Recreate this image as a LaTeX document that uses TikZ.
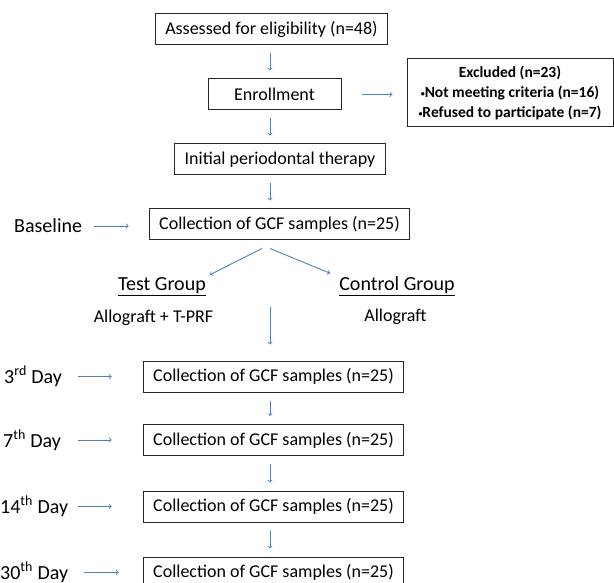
\documentclass[tikz,border=0pt]{standalone}
\usepackage{fontspec}
\setmainfont{Carlito}
\usepackage{tikz}
\usetikzlibrary{arrows,positioning}
\definecolor{arrowblue}{RGB}{79,129,189}
\newcommand{\smallbullet}{\raisebox{1.5pt}{\fontsize{8}{8}\selectfont\textbullet}}

\begin{document}
\begin{tikzpicture}[x=1pt,y=-1pt,>=to,
    box/.style={draw=black!85,line width=1pt,inner xsep=10pt,minimum height=31pt,font=\fontsize{18}{22}\selectfont},
    lbl/.style={inner sep=0pt,font=\fontsize{20}{24}\selectfont},
    note/.style={inner sep=0pt,font=\fontsize{18}{22}\selectfont},
    link/.style={->,color=arrowblue,line width=0.9pt,shorten <=8pt,shorten >=8pt}]
    \useasboundingbox (0,0) rectangle (614,583);
    \coordinate (col) at (270,0);
    \coordinate (merge) at (270,307);
    % main column
    \node[box]  (assess)  at (271.5,29)   {Assessed for eligibility (n=48)};
    \node[box,minimum width=133pt]  (enrol)  at (274.5,94.5)  {Enrollment};
    \node[box]  (init)    at (280,159.5)  {Initial periodontal therapy};
    \node[box]  (base)    at (279.5,224.5) {Collection of GCF samples (n=25)};
    \node[box]  (d3)      at (273.5,376.5) {Collection of GCF samples (n=25)};
    \node[box]  (d7)      at (273.5,440)   {Collection of GCF samples (n=25)};
    \node[box]  (d14)     at (273.5,506.5) {Collection of GCF samples (n=25)};
    \node[box]  (d30)     at (273.5,572.5) {Collection of GCF samples (n=25)};
    \node[box,minimum width=206pt,minimum height=68pt,align=center,
          font=\fontsize{15.5}{20}\selectfont\bfseries] (excl) at (510,93)
          {Excluded (n=23)\\\smallbullet Not meeting criteria (n=16)\\\smallbullet Refused to participate (n=7)};
    % groups
    \node[lbl]  (test)    at (162,287)    {\underline{Test Group}};
    \node[lbl]  (ctrl)    at (397,286)    {\underline{Control Group}};
    \node[note] (testtx)  at (153.5,318)  {Allograft + T-PRF};
    \node[note] (ctrltx)  at (395.5,317)  {Allograft};
    % time points
    \node[lbl,anchor=west] (baselbl) at (14,226) {Baseline};
    \node[lbl,anchor=west] (d3lbl)   at (4,376.5)  {3\textsuperscript{rd} Day};
    \node[lbl,anchor=west] (d7lbl)   at (3,440)    {7\textsuperscript{th} Day};
    \node[lbl,anchor=west] (d14lbl)  at (0,506.5)  {14\textsuperscript{th} Day};
    \node[lbl,anchor=west] (d30lbl)  at (0,572.5)  {30\textsuperscript{th} Day};
    \path[link] (assess.south -| col) edge (enrol.north -| col)
                (enrol.south -| col)  edge (init.north -| col)
                (init.south -| col)   edge (base.north -| col)
                (d3.south -| col)     edge (d7.north -| col)
                (d7.south -| col)     edge (d14.north -| col)
                (d14.south -| col)    edge (d30.north -| col)
                (enrol) edge[shorten <=20pt,shorten >=14pt] (enrol -| excl.west)
                ;
    \draw[link,shorten <=0pt,shorten >=16pt] (merge) -- (d3.north -| col);
    \path[link,shorten <=0pt,shorten >=0pt]
                ([xshift=-17.5pt,yshift=-8pt]base.south) edge ([xshift=4pt,yshift=3pt]test.north east)
                ([xshift=-9.5pt,yshift=-8pt]base.south)  edge ([xshift=-9pt,yshift=3pt]ctrl.north west)
                ;
    \path[link] (baselbl) edge[shorten <=12pt,shorten >=20pt] (baselbl -| base.west)
                (d3lbl)   edge[shorten <=16pt,shorten >=31pt] (d3lbl -| d3.west)
                (d7lbl)   edge[shorten <=17pt,shorten >=31pt] (d7lbl -| d7.west)
                (d14lbl)  edge[shorten <=10pt,shorten >=31pt] (d14lbl -| d14.west)
                (d30lbl)  edge[shorten <=16pt,shorten >=24pt] (d30lbl -| d30.west)
                ;
\end{tikzpicture}
\end{document}
